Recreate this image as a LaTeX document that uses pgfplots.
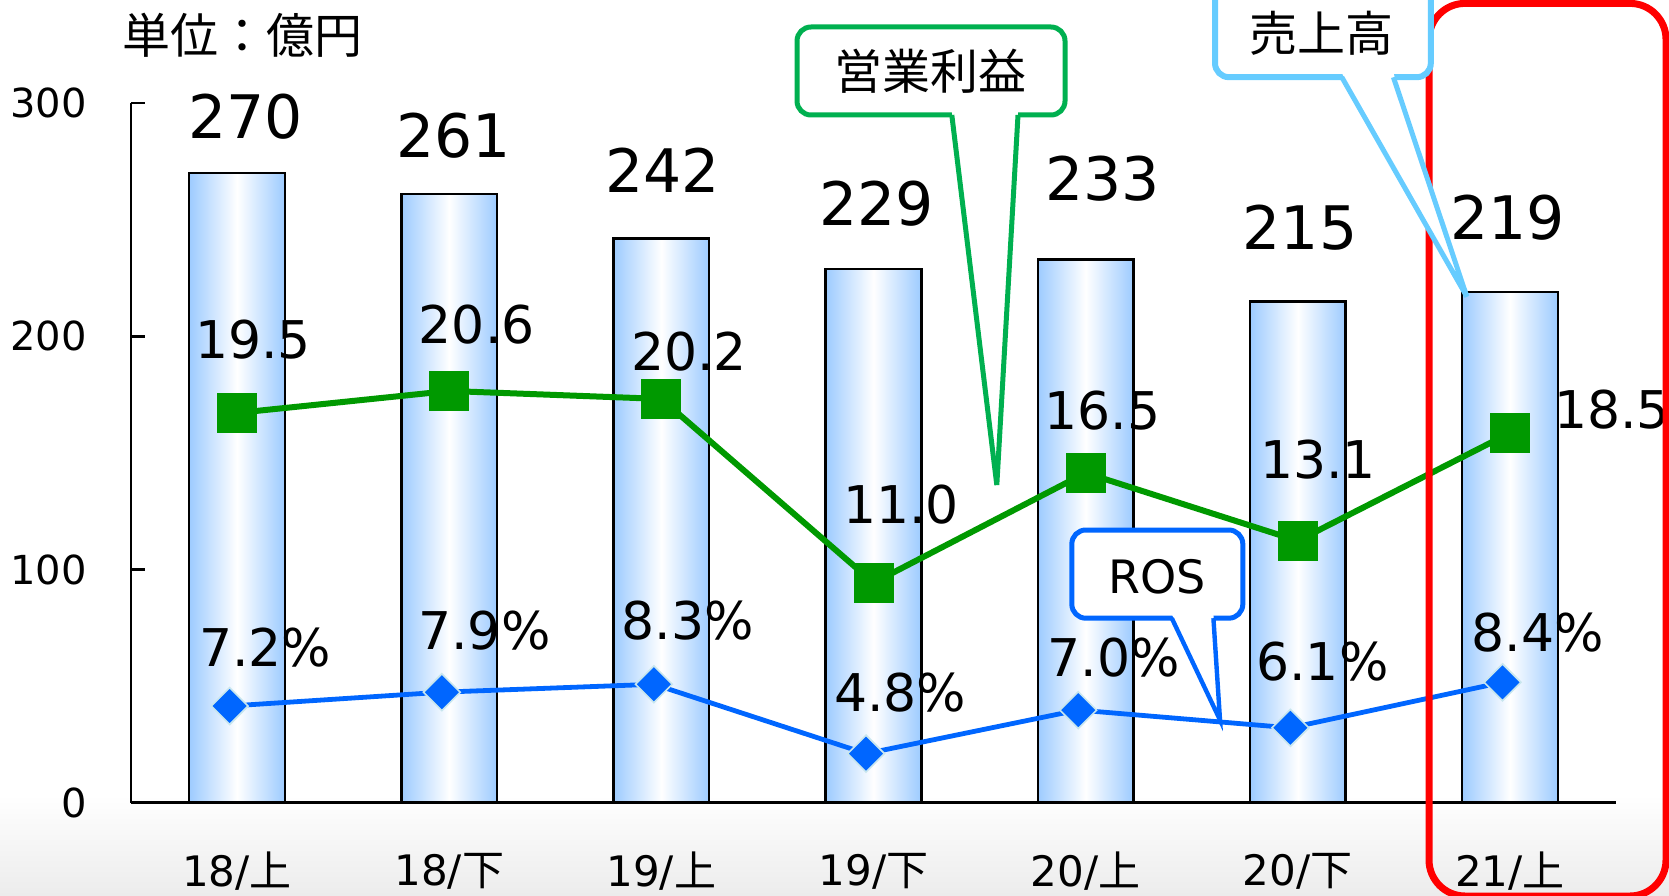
\documentclass[border=0pt]{standalone}
\usepackage{fontspec}
\setmainfont{DejaVu Sans}
\newfontfamily\jp{Noto Sans CJK JP}
\usepackage{pgfplots}
\usepackage{pgfplotstable}
\pgfplotsset{compat=1.18}

\definecolor{barblue}{HTML}{9DCBFF}
\definecolor{grnline}{HTML}{009900}
\definecolor{rosblue}{HTML}{0066FF}
\definecolor{calgreen}{HTML}{00B050}
\definecolor{calsky}{HTML}{66CCFF}
\definecolor{bggray}{HTML}{ECECEC}
\definecolor{diaedge}{HTML}{C8E6EE}

% sales (bars): x, value, label, label offset dx, dy (pt)
\pgfplotstableread{
x y lab dx dy
0 270 270 4.3 28.2
1 261 261 2.1 29.3
2 242 242 0.5 34.0
3 229 229 1.6 32.5
4 233 233 8.5 40.4
5 215 215 1.1 36.7
6 219 219 -1.1 37.3
}\sales

% operating profit
\pgfplotstableread{
x y lab dx dy
0 19.5 19.5 8.0 36.7
1 20.6 20.6 13.8 33.2
2 20.2 20.2 13.8 23.8
3 11.0 11.0 13.8 39.1
4 16.5 16.5 8.5 31.0
5 13.1 13.1 10.1 40.5
6 18.5 18.5 51.0 11.6
}\profit

% ROS (%)
\pgfplotstableread{
x y lab dx dy
0 7.2 7.2 17.8 29.3
1 7.9 7.9 21.3 30.9
2 8.3 8.3 17.0 31.9
3 4.8 4.8 17.0 30.3
4 7.0 7.0 17.6 26.1
5 6.1 6.1 16.0 33.0
6 8.4 8.4 17.6 25.0
}\ros

\pgfplotsset{
  /pgf/number format/assume math mode=true,
  base/.style={width=742.5pt, height=349.7pt, scale only axis,
    at={(65.5pt,46.2pt)}, anchor=south west, xmin=-0.5, xmax=6.5, clip=false},
  dlabels/.style={point meta=explicit symbolic, nodes near coords,
    visualization depends on={\thisrow{dx}\as\labdx},
    visualization depends on={\thisrow{dy}\as\labdy},
    every node near coord/.append style={anchor=center, inner sep=0pt,
      xshift=\labdx pt, yshift=\labdy pt, text=black}},
}

\begin{document}
\begin{tikzpicture}
\useasboundingbox (0,0) rectangle (834.5pt,447.5pt);
\clip (0,0) rectangle (834.5pt,447.5pt);
\shade[top color=white, bottom color=bggray] (0,0) rectangle (834.5pt,50pt);

\begin{axis}[base, ymin=0, ymax=300,
  axis x line*=bottom, axis y line*=left,
  axis line style={line width=1.2pt, black},
  ytick={0,100,200,300}, xtick={0,...,6},
  xticklabels={{18/{\jp 上}},{18/{\jp 下}},{19/{\jp 上}},{19/{\jp 下}},{20/{\jp 上}},{20/{\jp 下}},{21/{\jp 上}}},
  tick align=inside, major tick length=7pt,
  y tick style={line width=1.2pt, black},
  x tick style={draw=none},
  yticklabel style={font=\fontsize{20}{24}\selectfont, inner sep=0pt, anchor=east, xshift=-22pt},
  xticklabel style={font=\fontsize{21}{25}\selectfont, inner sep=0pt, anchor=center, yshift=-34.5pt},
]
\pgfplotsinvokeforeach{0,...,6}{
\addplot[ybar, bar width=47.9pt, bar shift=0pt, draw=black, line width=1.2pt,
  left color=barblue, right color=barblue, middle color=white,
  restrict expr to domain={\coordindex}{#1:#1}]
  table[x=x, y=y] {\sales};
}
\addplot[draw=none, mark=none, dlabels,
  every node near coord/.append style={font=\fontsize{30}{36}\selectfont}]
  table[x=x, y=y, meta=lab] {\sales};
\end{axis}

\begin{axis}[base, hide axis, ymin=0, ymax=35]
\addplot[grnline, line width=3pt, mark=square*, mark size=8.5pt,
  mark options={fill=grnline, draw=none}, dlabels,
  every node near coord/.append style={font=\fontsize{26}{30}\selectfont}]
  table[x=x, y=y, meta=lab] {\profit};
\end{axis}

\begin{axis}[base, hide axis, ymin=2.327, ymax=37.63]
\addplot[rosblue, line width=2.4pt, xshift=-3.7pt, mark=square*, mark size=6.5pt,
  mark options={rotate=45, fill=rosblue, draw=diaedge, line width=0.8pt}, dlabels,
  nodes near coords={\pgfplotspointmeta\%},
  every node near coord/.append style={font=\fontsize{26}{30}\selectfont}]
  table[x=x, y=y, meta=lab] {\ros};
\end{axis}

% highlight of the latest period
\draw[red, line width=3.5pt, rounded corners=18pt] (714.5pt,-0.5pt) rectangle (833pt,445.8pt);

% unit
\node[font=\jp\fontsize{24}{28}\selectfont] at (121.1pt,430pt) {単位：億円};

% callout: operating profit
\draw[calgreen, line width=2.5pt, fill=white, rounded corners=7pt] (398.5pt,390pt) rectangle (532.5pt,434pt);
\fill[white] (475.9pt,392pt) -- (498.4pt,205pt) -- (509pt,392pt) -- cycle;
\draw[calgreen, line width=2.5pt] (475.9pt,390pt) -- (498.4pt,205pt) -- (509pt,390pt);
\node[font=\jp\fontsize{24}{28}\selectfont] at (465pt,411.7pt) {営業利益};

% callout: ROS
\draw[rosblue, line width=2.5pt, fill=white, rounded corners=7pt] (535.9pt,138.4pt) rectangle (621.4pt,182.5pt);
\fill[white] (585.9pt,140.4pt) -- (610pt,87.5pt) -- (606.7pt,140.4pt) -- cycle;
\draw[rosblue, line width=2.2pt] (585.9pt,138.4pt) -- (610pt,87.5pt) -- (606.7pt,138.4pt);
\node[font=\fontsize{23}{27}\selectfont] at (578.4pt,159.2pt) {ROS};

% callout: sales
\draw[calsky, line width=3pt, fill=white, rounded corners=7pt] (607.5pt,408.9pt) rectangle (715.4pt,455pt);
\fill[white] (670.9pt,411pt) -- (733.4pt,299.2pt) -- (696.7pt,411pt) -- cycle;
\draw[calsky, line width=2.5pt] (670.9pt,408.9pt) -- (733.4pt,299.2pt) -- (696.7pt,408.9pt);
\node[font=\jp\fontsize{24}{28}\selectfont] at (660.9pt,431pt) {売上高};
\end{tikzpicture}
\end{document}
